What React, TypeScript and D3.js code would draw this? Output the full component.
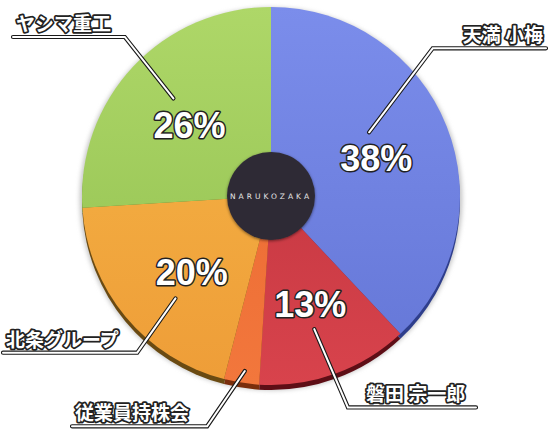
import * as d3 from "d3"

// shareholders, clockwise from 12 o'clock
const names = ["天満 小梅", "磐田 宗一郎", "従業員持株会", "北条グループ", "ヤシマ重工"]
const shares = [38, 13, 3, 20, 26]
const percentLabels = ["38%", "13%", "", "20%", "26%"]

const topColors = ["#7b8deb", "#b8303b", "#e9652f", "#f6b747", "#aed768"]
const bottomColors = ["#6476d6", "#d8434c", "#f2773c", "#ee9d38", "#90bf4f"]
const edgeColors = ["#2e3e8c", "#5e0e16", "#7a2e0c", "#6a4a12", "#5a7a2a"]

// label layout (degrees clockwise from top, radius from centre)
const pctPos = [
  [70, 112],
  [160, 115],
  null,
  [226, 110],
  [311, 108],
]
const leaderStart = [
  [57, 117],
  [162, 140],
  [188.5, 177],
  [223, 140],
  [315, 138],
]
const leaderElbow = [
  [47.6, 219],
  [160, 225],
  [195.5, 239],
  [220.5, 206],
  [317.4, 216],
]
const leaderEndX = [546, 476, 72, 3, 13]

const W = 552
const H = 432
const cx = 271
const cy = 196
const R = 189
const depth = 5

function polar(deg: number, r: number): [number, number] {
  const a = (deg * Math.PI) / 180
  return [cx + r * Math.sin(a), cy - r * Math.cos(a)]
}

export default function App() {
  const pie = d3
    .pie<number>()
    .sort(null)
    .value((d) => d)
  const arcs = pie(shares)
  const arc = d3.arc<d3.PieArcDatum<number>>().innerRadius(0).outerRadius(R)

  const jpFont = "'Noto Sans CJK JP', sans-serif"
  const numFont = "'Liberation Sans', Arial, sans-serif"

  return (
    <svg width={W} height={H} style={{ position: "absolute", left: 0, top: 0 }}>
      <defs>
        {topColors.map((c, i) => (
          <linearGradient key={i} id={`g${i}`} gradientUnits="userSpaceOnUse" x1={0} y1={-R} x2={0} y2={R}>
            <stop offset="0%" stopColor={c} />
            <stop offset="100%" stopColor={bottomColors[i]} />
          </linearGradient>
        ))}
        <filter id="blur" x="-10%" y="-10%" width="120%" height="120%">
          <feGaussianBlur stdDeviation="2" />
        </filter>
        <filter id="cshadow" x="-30%" y="-30%" width="160%" height="160%">
          <feDropShadow dx="0" dy="1" stdDeviation="1.5" floodColor="#000" floodOpacity="0.5" />
        </filter>
      </defs>

      {/* soft outline / shadow */}
      <circle cx={cx} cy={cy + 3} r={R + 2.5} fill="#c8c8c8" filter="url(#blur)" />

      {/* 3D edge */}
      <g transform={`translate(${cx},${cy + depth})`}>
        {arcs.map((d, i) => (
          <path key={i} d={arc(d) ?? ""} fill={edgeColors[i]} />
        ))}
      </g>

      {/* top surface */}
      <g transform={`translate(${cx},${cy})`}>
        {arcs.map((d, i) => (
          <path key={i} d={arc(d) ?? ""} fill={`url(#g${i})`} />
        ))}
        <circle r={44} fill="#2f2b35" filter="url(#cshadow)" />
        <text
          y={3}
          textAnchor="middle"
          fill="#e6e6e6"
          fontSize={7.5}
          letterSpacing={3}
          fontFamily="'DejaVu Sans', sans-serif"
        >
          NARUKOZAKA
        </text>
      </g>

      {/* leader lines */}
      {names.map((_, i) => {
        const s = polar(leaderStart[i][0], leaderStart[i][1])
        const e = polar(leaderElbow[i][0], leaderElbow[i][1])
        const pts = `${s[0]},${s[1]} ${e[0]},${e[1]} ${leaderEndX[i]},${e[1]}`
        return (
          <g key={i}>
            <polyline points={pts} fill="none" stroke="#1a1a1a" strokeWidth={4.2} strokeLinejoin="miter" strokeLinecap="round" />
            <polyline points={pts} fill="none" stroke="#ffffff" strokeWidth={2} strokeLinejoin="miter" strokeLinecap="round" />
          </g>
        )
      })}

      {/* name labels */}
      {names.map((n, i) => {
        const e = polar(leaderElbow[i][0], leaderElbow[i][1])
        const right = leaderEndX[i] > e[0]
        const x = right ? (i === 0 ? leaderEndX[i] - 3 : e[0] + 18) : leaderEndX[i] + 3
        const anchor = right && i === 0 ? "end" : "start"
        return (
          <text
            key={i}
            x={x}
            y={e[1] - 6}
            textAnchor={anchor}
            fontFamily={jpFont}
            fontWeight={700}
            fontSize={19}
            fill="#fff"
            stroke="#222"
            strokeWidth={3.5}
            strokeLinejoin="round"
            paintOrder="stroke"
          >
            {n}
          </text>
        )
      })}

      {/* percentages */}
      {percentLabels.map((p, i) => {
        const pos = pctPos[i]
        if (!pos || !p) return null
        const [x, y] = polar(pos[0], pos[1])
        return (
          <text
            key={i}
            x={x}
            y={y}
            dy="0.36em"
            textAnchor="middle"
            fontFamily={numFont}
            fontWeight={700}
            fontSize={36}
            fill="#fff"
            stroke="#222"
            strokeWidth={3}
            strokeLinejoin="round"
            paintOrder="stroke"
          >
            {p}
          </text>
        )
      })}
    </svg>
  )
}
